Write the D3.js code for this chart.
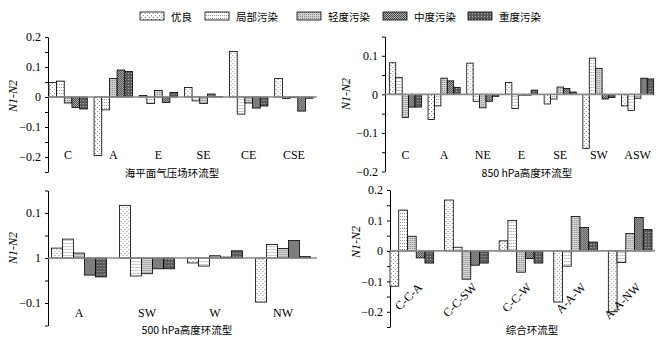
<!DOCTYPE html>
<html>
<head>
<meta charset="utf-8">
<script src="https://cdn.jsdelivr.net/npm/d3@7.9.0/dist/d3.min.js"></script>
<style>
  body { margin: 0; background: #fff; }
  svg { display: block; }
  .tick text { font-family: "Liberation Serif", "DejaVu Serif", serif; font-size: 12px; fill: #000; }
</style>
</head>
<body>
<svg id="chart" width="665" height="343"></svg>
<script>
// pollution levels (legend order)
const levels = ["优良", "局部污染", "轻度污染", "中度污染", "重度污染"];

// sea level pressure patterns
const slpTypes = ["C", "A", "E", "SE", "CE", "CSE"];
const slpValues = [
  [0.048, 0.053, -0.02, -0.035, -0.04],
  [-0.195, -0.043, 0.062, 0.09, 0.085],
  [0.005, -0.022, 0.022, -0.018, 0.015],
  [0.032, -0.013, -0.022, 0.01, 0.001],
  [0.152, -0.057, -0.02, -0.037, -0.03],
  [0.062, -0.005, -0.002, -0.047, -0.004]
];

// 850 hPa patterns
const h850Types = ["C", "A", "NE", "E", "SE", "SW", "ASW"];
const h850Values = [
  [0.082, 0.044, -0.06, -0.033, -0.033],
  [-0.065, -0.03, 0.042, 0.035, 0.018],
  [0.081, -0.018, -0.035, -0.018, -0.005],
  [0.031, -0.037, -0.002, -0.002, 0.011],
  [-0.025, -0.012, 0.019, 0.015, 0.006],
  [-0.14, 0.094, 0.067, -0.012, -0.008],
  [-0.03, -0.042, -0.01, 0.042, 0.04]
];

// 500 hPa patterns
const h500Types = ["A", "SW", "W", "NW"];
const h500Values = [
  [0.022, 0.042, 0.011, -0.038, -0.042],
  [0.117, -0.04, -0.035, -0.024, -0.024],
  [-0.011, -0.018, 0.005, 0.002, 0.016],
  [-0.098, 0.03, 0.021, 0.039, 0.003]
];

// combined patterns
const combTypes = ["C-C-A", "C-C-SW", "C-C-W", "A-A-W", "A-A-NW"];
const combValues = [
  [-0.116, 0.134, 0.048, -0.023, -0.04],
  [0.167, 0.012, -0.093, -0.047, -0.04],
  [0.033, 0.1, -0.07, -0.025, -0.04],
  [-0.168, -0.05, 0.113, 0.077, 0.029],
  [-0.2, -0.038, 0.057, 0.11, 0.07]
];

// tick labels
const ticks45 = [0.2, 0.1, 0, -0.1, -0.2];
const ticks45Labels = ["0.2", "0.1", "0", "−0.1", "−0.2"];
const ticks850 = [0.1, 0, -0.1, -0.2];
const ticks850Labels = ["0.1", "0", "−0.1", "−0.2"];
const ticks500 = [0.1, 0, -0.1];
const ticks500Labels = ["0.1", "1", "−0.1"];

const svg = d3.select("#chart");
const cjk = '"Noto Sans CJK SC", sans-serif';
const serif = '"Liberation Serif", "DejaVu Serif", serif';

// ----- fill patterns -----
const defs = svg.append("defs");
function pattern(id, w, h, bg, dots, dotColor) {
  const p = defs.append("pattern").attr("id", id)
    .attr("patternUnits", "userSpaceOnUse").attr("width", w).attr("height", h);
  p.append("rect").attr("width", w).attr("height", h).attr("fill", bg);
  dots.forEach(([x, y]) => {
    p.append("rect").attr("x", x).attr("y", y).attr("width", 1).attr("height", 1).attr("fill", dotColor);
  });
}
pattern("p0", 4, 4, "#fff", [[1, 1], [3, 3]], "#888");
pattern("p1", 2, 3, "#fff", [[0, 0]], "#999");
pattern("p2", 2, 2, "#d2d2d2", [[0, 0]], "#8a8a8a");
pattern("p3", 2, 2, "#b0b0b0", [[0, 0], [1, 1]], "#4a4a4a");
pattern("p4", 3, 3, "#5a5a5a", [[1, 1]], "#b8b8b8");
const fillOf = i => `url(#p${i})`;

// ----- legend -----
const legendX = [140, 205, 297, 383, 468];
const legend = svg.append("g");
levels.forEach((name, i) => {
  legend.append("rect").attr("x", legendX[i]).attr("y", 12).attr("width", 24).attr("height", 8)
    .attr("fill", fillOf(i)).attr("stroke", "#000").attr("stroke-width", 0.8);
  legend.append("text").attr("x", legendX[i] + 31).attr("y", 20.5)
    .attr("font-family", cjk).attr("font-size", 10.5).text(name);
});

// ----- one panel -----
function drawPanel(cfg) {
  const g = svg.append("g");
  const y = d3.scaleLinear().domain(cfg.domain).range(cfg.yRange);
  const x0 = d3.scaleBand().domain(cfg.types).range(cfg.xRange)
    .paddingInner(cfg.padIn).paddingOuter(cfg.padOut);
  const x1 = d3.scaleBand().domain(d3.range(levels.length)).range([0, x0.bandwidth()]);

  // y axis with minor ticks every 0.05
  const minor = d3.range(Math.round(cfg.domain[0] * 20), Math.round(cfg.domain[1] * 20) + 1).map(k => k / 20);
  const axis = d3.axisLeft(y).tickValues(minor).tickSize(3).tickSizeOuter(0).tickPadding(4)
    .tickFormat(d => {
      const k = cfg.ticks.findIndex(t => Math.abs(t - d) < 1e-9);
      return k >= 0 ? cfg.tickLabels[k] : "";
    });
  const ax = g.append("g").attr("transform", `translate(${cfg.axisX},0)`).call(axis);
  ax.select(".domain").attr("stroke", "#000").attr("stroke-width", 1);
  ax.selectAll(".tick line").attr("stroke", "#000");

  // bars
  const groups = g.selectAll("g.grp").data(cfg.values).join("g").attr("class", "grp")
    .attr("transform", (d, i) => `translate(${x0(cfg.types[i])},0)`);
  groups.selectAll("rect").data(d => d.map((v, i) => ({ v, i }))).join("rect")
    .attr("x", d => x1(d.i))
    .attr("width", x1.bandwidth())
    .attr("y", d => y(Math.max(0, d.v)))
    .attr("height", d => Math.abs(y(d.v) - y(0)))
    .attr("fill", d => fillOf(d.i))
    .attr("stroke", "#000").attr("stroke-width", 0.8);

  // zero line
  g.append("line").attr("x1", cfg.axisX).attr("x2", cfg.zeroEnd)
    .attr("y1", y(0)).attr("y2", y(0)).attr("stroke", "#8c8c8c").attr("stroke-width", 1.6);

  // category labels
  const lab = g.selectAll("text.cat").data(cfg.types).join("text").attr("class", "cat")
    .attr("font-family", serif).attr("font-size", 12);
  if (cfg.rotate) {
    lab.attr("text-anchor", "end")
      .attr("transform", d => `translate(${x0(d) + x0.bandwidth() / 2 + 11},${cfg.labelY}) rotate(-45)`)
      .text(d => d);
  } else {
    lab.attr("text-anchor", "middle")
      .attr("x", d => x0(d) + x0.bandwidth() / 2)
      .attr("y", cfg.labelY).text(d => d);
  }

  // panel title
  g.append("text").attr("x", cfg.titleX).attr("y", cfg.titleY).attr("text-anchor", "middle")
    .attr("font-family", cjk).attr("font-size", 10.5).text(cfg.title);

  // y label
  g.append("text").attr("transform", `translate(${cfg.yLabelX},${cfg.yLabelY}) rotate(-90)`)
    .attr("text-anchor", "middle").attr("font-family", serif).attr("font-style", "italic")
    .attr("font-size", 12).text("N1-N2");
}

drawPanel({
  types: slpTypes, values: slpValues, domain: [-0.25, 0.2], yRange: [172, 37],
  xRange: [48, 314], padIn: 0.15, padOut: 0.02, axisX: 48, zeroEnd: 317,
  ticks: ticks45, tickLabels: ticks45Labels, labelY: 159,
  title: "海平面气压场环流型", titleX: 172, titleY: 177, yLabelX: 17, yLabelY: 96
});
drawPanel({
  types: h850Types, values: h850Values, domain: [-0.2, 0.15], yRange: [171.5, 36.5],
  xRange: [387, 656], padIn: 0.17, padOut: 0.06, axisX: 385, zeroEnd: 653,
  ticks: ticks850, tickLabels: ticks850Labels, labelY: 159,
  title: "850 hPa高度环流型", titleX: 527, titleY: 177, yLabelX: 350, yLabelY: 94
});
drawPanel({
  types: h500Types, values: h500Values, domain: [-0.15, 0.15], yRange: [325.5, 190.5],
  xRange: [46, 316], padIn: 0.19, padOut: 0.08, axisX: 48, zeroEnd: 317,
  ticks: ticks500, tickLabels: ticks500Labels, labelY: 317,
  title: "500 hPa高度环流型", titleX: 187, titleY: 334, yLabelX: 17, yLabelY: 248
});
drawPanel({
  types: combTypes, values: combValues, domain: [-0.25, 0.2], yRange: [327, 190],
  xRange: [390, 652], padIn: 0.2, padOut: 0, axisX: 390, zeroEnd: 655,
  ticks: ticks45, tickLabels: ticks45Labels, labelY: 288, rotate: true,
  title: "综合环流型", titleX: 532, titleY: 334, yLabelX: 360, yLabelY: 242
});
</script>
</body>
</html>
